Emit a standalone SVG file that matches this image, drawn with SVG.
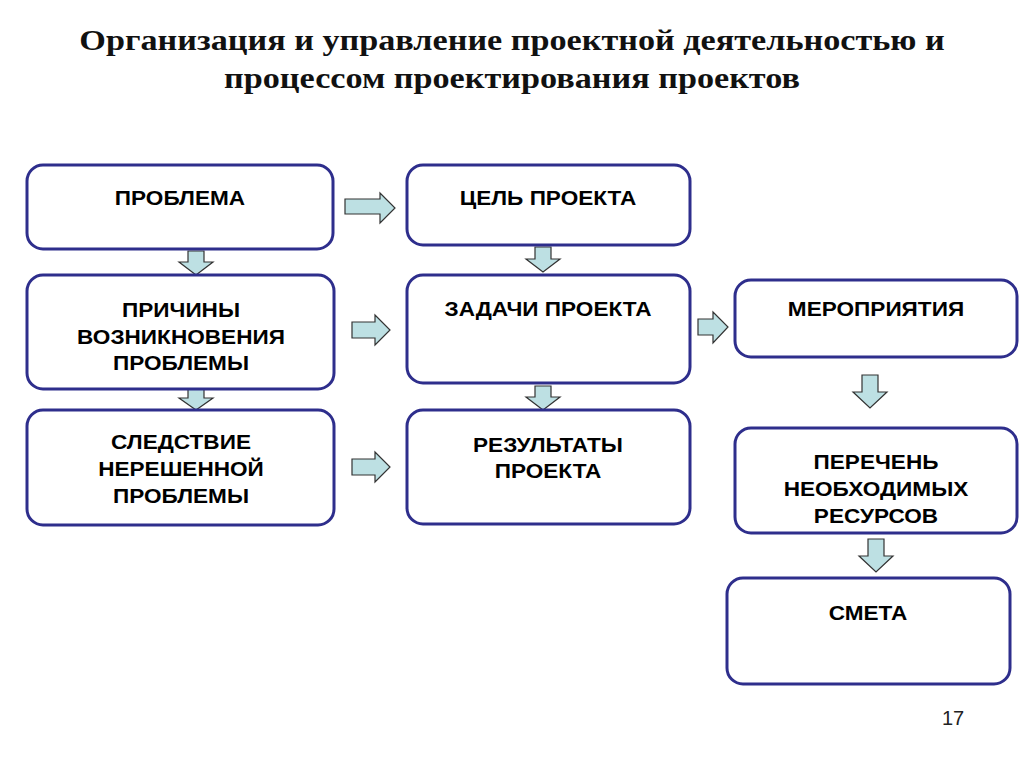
<svg xmlns="http://www.w3.org/2000/svg" width="1024" height="767" viewBox="0 0 1024 767">
<style>
.box{fill:#fff;stroke:#2e2e8c;stroke-width:3}
.t{font-family:"Liberation Sans",Arial,sans-serif;font-weight:bold;font-size:20px;fill:#000;text-anchor:middle}
.ttl{font-family:"Liberation Serif","Times New Roman",serif;font-weight:bold;font-size:30px;fill:#111;text-anchor:middle}
.ar{fill:#bde0e3;stroke:#333;stroke-width:1.2;stroke-linejoin:miter}
</style>
<rect width="1024" height="767" fill="#fff"/>
<g transform="translate(512 0) scale(1.14 1)">
<text class="ttl" x="0" y="50">Организация и управление проектной деятельностью и</text>
<text class="ttl" x="0" y="88">процессом проектирования проектов</text>
</g>

<g id="connectors">
<path class="ar" d="M345,199 H380 V193 L395,208 L380,223 V214 H345 Z"/>
<path class="ar" d="M352,322 H375 V315 L390,330 L375,345 V338 H352 Z"/>
<path class="ar" d="M352,459 H375 V452 L390,467 L375,482 V475 H352 Z"/>
<path class="ar" d="M698,319 H713 V312 L728,327 L713,343 V335 H698 Z"/>
<path class="ar" d="M188,251 H204 V262 H213 L196,275 L179,262 H188 Z"/>
<path class="ar" d="M188,389 H204 V398 H213 L196,410 L179,398 H188 Z"/>
<path class="ar" d="M535,247 H551 V259 H560 L543,272 L526,259 H535 Z"/>
<path class="ar" d="M535,386 H551 V397 H560 L543,410 L526,397 H535 Z"/>
<path class="ar" d="M862,375 H878 V392 H887 L870,408 L853,392 H862 Z"/>
<path class="ar" d="M868,539 H884 V556 H893 L876,572 L859,556 H868 Z"/>
</g>

<g id="problema"><rect class="box" x="27" y="165" width="306" height="84" rx="16"/><g transform="translate(180 0) scale(1.13 1)"><text class="t" x="0" y="205">ПРОБЛЕМА</text></g></g>
<g id="prichiny"><rect class="box" x="27" y="275" width="307" height="114" rx="16"/><g transform="translate(181 0) scale(1.13 1)"><text class="t" x="0" y="317">ПРИЧИНЫ</text><text class="t" x="0" y="344">ВОЗНИКНОВЕНИЯ</text><text class="t" x="0" y="370">ПРОБЛЕМЫ</text></g></g>
<g id="sledstvie"><rect class="box" x="27" y="410" width="307" height="115" rx="16"/><g transform="translate(181 0) scale(1.13 1)"><text class="t" x="0" y="449">СЛЕДСТВИЕ</text><text class="t" x="0" y="476">НЕРЕШЕННОЙ</text><text class="t" x="0" y="503">ПРОБЛЕМЫ</text></g></g>
<g id="cel"><rect class="box" x="407" y="165" width="283" height="80" rx="16"/><g transform="translate(548 0) scale(1.13 1)"><text class="t" x="0" y="205">ЦЕЛЬ ПРОЕКТА</text></g></g>
<g id="zadachi"><rect class="box" x="407" y="275" width="283" height="108" rx="16"/><g transform="translate(548 0) scale(1.13 1)"><text class="t" x="0" y="316">ЗАДАЧИ ПРОЕКТА</text></g></g>
<g id="rezultaty"><rect class="box" x="407" y="410" width="283" height="114" rx="16"/><g transform="translate(548 0) scale(1.13 1)"><text class="t" x="0" y="452">РЕЗУЛЬТАТЫ</text><text class="t" x="0" y="478">ПРОЕКТА</text></g></g>
<g id="meropriyatiya"><rect class="box" x="735" y="280" width="282" height="77" rx="16"/><g transform="translate(876 0) scale(1.13 1)"><text class="t" x="0" y="316">МЕРОПРИЯТИЯ</text></g></g>
<g id="perechen"><rect class="box" x="735" y="428" width="282" height="105" rx="16"/><g transform="translate(876 0) scale(1.13 1)"><text class="t" x="0" y="469">ПЕРЕЧЕНЬ</text><text class="t" x="0" y="496">НЕОБХОДИМЫХ</text><text class="t" x="0" y="523">РЕСУРСОВ</text></g></g>
<g id="smeta"><rect class="box" x="727" y="578" width="283" height="106" rx="16"/><g transform="translate(868 0) scale(1.13 1)"><text class="t" x="0" y="620">СМЕТА</text></g></g>

<text x="953" y="725" font-family="Liberation Sans,Arial,sans-serif" font-size="20" fill="#222" text-anchor="middle">17</text>
</svg>
